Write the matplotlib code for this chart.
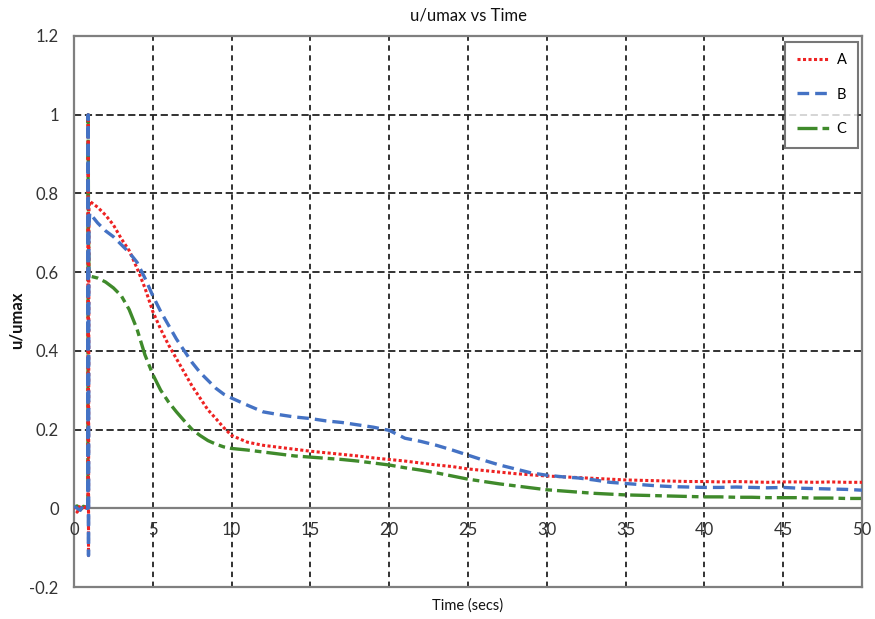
import matplotlib
matplotlib.use("Agg")
import matplotlib.pyplot as plt

plt.rcParams['font.family'] = ['Lato', 'DejaVu Sans']

# ---- data ----
time = [0, 0.2, 0.4, 0.6, 0.8, 0.88, 0.9, 0.92, 0.95,
        1, 1.5, 2, 2.5, 3, 3.5, 4, 4.5, 5, 5.5, 6, 6.5, 7, 7.5, 8, 8.5, 9, 9.5, 10,
        11, 12, 13, 14, 15, 16, 17, 18, 19, 20, 21, 22, 23, 24, 25, 26, 27, 28, 29, 30,
        31, 32, 33, 34, 35, 36, 37, 38, 39, 40, 41, 42, 43, 44, 45, 46, 47, 48, 49, 50]

series_a = [0.005, -0.01, 0.008, -0.005, 0.01, 0.0, 1.0, -0.12, 0.76,
            0.78, 0.765, 0.745, 0.72, 0.685, 0.655, 0.61, 0.56, 0.50, 0.455, 0.415, 0.38, 0.345, 0.31, 0.28, 0.25, 0.228, 0.205, 0.185,
            0.168, 0.16, 0.155, 0.15, 0.145, 0.141, 0.137, 0.133, 0.128, 0.124, 0.12, 0.115, 0.11, 0.106, 0.10, 0.096, 0.092, 0.088, 0.085, 0.082,
            0.08, 0.078, 0.076, 0.074, 0.072, 0.071, 0.07, 0.069, 0.068, 0.068, 0.067, 0.068, 0.067, 0.066, 0.067, 0.067, 0.066, 0.067, 0.066, 0.066]

series_b = [0.005, 0.0, -0.005, 0.008, 0.0, 0.0, 1.0, -0.12, 0.72,
            0.75, 0.725, 0.705, 0.69, 0.67, 0.65, 0.625, 0.585, 0.54, 0.50, 0.465, 0.43, 0.40, 0.37, 0.345, 0.325, 0.305, 0.29, 0.28,
            0.262, 0.245, 0.238, 0.232, 0.228, 0.222, 0.218, 0.212, 0.206, 0.198, 0.178, 0.17, 0.16, 0.148, 0.135, 0.122, 0.11, 0.10, 0.09, 0.084,
            0.08, 0.077, 0.072, 0.066, 0.063, 0.06, 0.057, 0.055, 0.054, 0.053, 0.053, 0.054, 0.053, 0.052, 0.053, 0.051, 0.05, 0.049, 0.048, 0.046]

series_c = [0.003, 0.006, -0.004, 0.005, 0.002, 0.0, 1.0, 0.70, 0.60,
            0.59, 0.585, 0.575, 0.56, 0.54, 0.505, 0.455, 0.39, 0.34, 0.30, 0.27, 0.245, 0.222, 0.20, 0.185, 0.172, 0.163, 0.156, 0.152,
            0.148, 0.143, 0.138, 0.133, 0.13, 0.127, 0.124, 0.12, 0.115, 0.11, 0.103, 0.097, 0.09, 0.082, 0.074, 0.068, 0.062, 0.057, 0.052, 0.047,
            0.044, 0.041, 0.038, 0.036, 0.034, 0.033, 0.032, 0.031, 0.03, 0.029, 0.029, 0.028, 0.028, 0.027, 0.027, 0.027, 0.026, 0.026, 0.025, 0.025]

series_names = ['A', 'B', 'C']
x_ticks = [0, 5, 10, 15, 20, 25, 30, 35, 40, 45, 50]
y_ticks = [-0.2, 0, 0.2, 0.4, 0.6, 0.8, 1.0, 1.2]
y_tick_labels = ['-0.2', '0', '0.2', '0.4', '0.6', '0.8', '1', '1.2']

# ---- figure ----
fig = plt.figure(figsize=(8.75, 6.19), dpi=100)
ax = fig.add_axes([74/875, 1 - 587/619, (862-74)/875, (587-36)/619])

text_col = '#333333'
frame_col = '#7f7f7f'

ax.set_xlim(0, 50)
ax.set_ylim(-0.2, 1.2)

# grid
for yv in y_ticks:
    if yv in (-0.2, 0, 1.2):
        continue
    ax.axhline(yv, color='#222222', lw=1.3, ls=(0, (4, 2)), zorder=1)
for xv in x_ticks[1:-1]:
    ax.axvline(xv, color='#222222', lw=1.3, ls=(0, (3, 2.5)), zorder=1)
ax.axhline(0, color=frame_col, lw=1.6, zorder=1.5)

ax.plot(time, series_a, color='#ee2222', lw=2.2, ls=(0, (1, 0.8)), label=series_names[0], zorder=3)
ax.plot(time, series_b, color='#4472c4', lw=2.4, ls=(0, (3.5, 1.8)), label=series_names[1], zorder=3)
ax.plot(time, series_c, color='#3f8a2b', lw=2.4, ls=(0, (6, 1.5, 2, 1.5)), label=series_names[2], zorder=2.5)

for s in ax.spines.values():
    s.set_color(frame_col)
    s.set_linewidth(1.6)

ax.set_yticks(y_ticks)
ax.set_yticklabels(y_tick_labels)
ax.set_xticks(x_ticks)
ax.set_xticklabels([''] * len(x_ticks))
ax.tick_params(axis='both', length=0, labelsize=12, colors=text_col, pad=11)

# x tick labels sit just below the zero line
for xv in x_ticks:
    ax.annotate(str(xv), xy=(xv, 0), xytext=(0, -10), textcoords='offset points',
                ha='center', va='top', fontsize=12, color=text_col, zorder=4)

ax.set_title('u/umax vs Time', fontsize=12, color='#111111', pad=11)
fig.text(468/875, 1 - 606/619, 'Time (secs)', fontsize=10.5, color='#111111',
         ha='center', va='center')
fig.text(17/875, 1 - 320/619, 'u/umax', fontsize=12, fontweight='bold', color='#111111',
         ha='center', va='center', rotation=90)

leg = ax.legend(loc='upper right', bbox_to_anchor=(0.995, 0.99), fontsize=10.5,
                frameon=True, fancybox=False, edgecolor='#555555',
                labelspacing=1.4, handlelength=2.2, handletextpad=0.5,
                borderpad=0.8, borderaxespad=0)
leg.get_frame().set_linewidth(1.5)

fig.savefig('out.png', dpi=100)
